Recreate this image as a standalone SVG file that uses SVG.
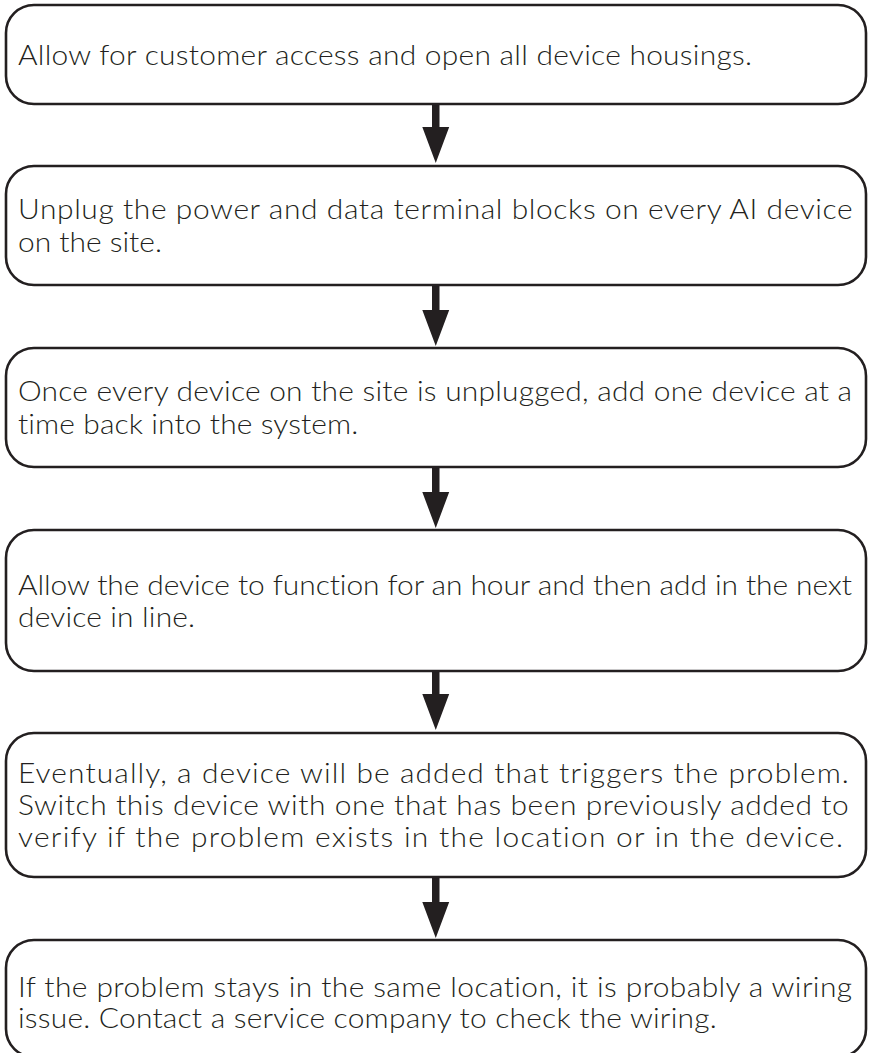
<svg xmlns="http://www.w3.org/2000/svg" width="870" height="1053" viewBox="0 0 870 1053">
  <style>
    .box { fill: #ffffff; stroke: #231f20; stroke-width: 2.6; }
    .label { font-family: "Lato", "Liberation Sans", sans-serif; font-size: 28px; font-weight: 300; fill: #231f20; font-variant-ligatures: none; }
    .arrow { fill: #231f20; }
  </style>
  <rect width="870" height="1053" fill="#ffffff"/>

  <!-- connectors: short shaft + triangular head between stacked steps -->
  <g id="connectors">
    <path class="arrow" d="M432,104 H439.5 V127 H449.2 L435.75,163 L422.3,127 H432 Z"/>
    <path class="arrow" d="M432,285 H439.5 V310 H449.2 L435.75,346 L422.3,310 H432 Z"/>
    <path class="arrow" d="M432,467 H439.5 V492 H449.2 L435.75,528 L422.3,492 H432 Z"/>
    <path class="arrow" d="M432,671 H439.5 V694 H449.2 L435.75,730 L422.3,694 H432 Z"/>
    <path class="arrow" d="M432,877 H439.5 V902 H449.2 L435.75,938 L422.3,902 H432 Z"/>
  </g>

  <!-- body text is set slightly wide: each line is stretched 1.07x from the left margin -->
  <g id="step1">
    <rect class="box" x="6" y="5" width="860" height="99" rx="28" ry="28"/>
    <g transform="matrix(1.07 0 0 1 18 0)">
      <text class="label" x="0" y="65" textLength="686" lengthAdjust="spacing">Allow for customer access and open all device housings.</text>
    </g>
  </g>

  <g id="step2">
    <rect class="box" x="6" y="166" width="860" height="119" rx="28" ry="28"/>
    <g transform="matrix(1.07 0 0 1 18 0)">
      <text class="label" x="0" y="219" textLength="780" lengthAdjust="spacing">Unplug the power and data terminal blocks on every AI device</text>
      <text class="label" x="0" y="252" textLength="134.5" lengthAdjust="spacing">on the site.</text>
    </g>
  </g>

  <g id="step3">
    <rect class="box" x="6" y="348" width="860" height="119" rx="28" ry="28"/>
    <g transform="matrix(1.07 0 0 1 18 0)">
      <text class="label" x="0" y="401" textLength="779.5" lengthAdjust="spacing">Once every device on the site is unplugged, add one device at a</text>
      <text class="label" x="0" y="434" textLength="318" lengthAdjust="spacing">time back into the system.</text>
    </g>
  </g>

  <g id="step4">
    <rect class="box" x="6" y="530" width="860" height="141" rx="28" ry="28"/>
    <g transform="matrix(1.07 0 0 1 18 0)">
      <text class="label" x="0" y="595" textLength="779.5" lengthAdjust="spacing">Allow the device to function for an hour and then add in the next</text>
      <text class="label" x="0" y="627" textLength="165.5" lengthAdjust="spacing">device in line.</text>
    </g>
  </g>

  <g id="step5">
    <rect class="box" x="6" y="733" width="860" height="144" rx="28" ry="28"/>
    <g transform="matrix(1.07 0 0 1 18 0)">
      <text class="label" x="0" y="783" textLength="776.5" lengthAdjust="spacing">Eventually, a device will be added that triggers the problem.</text>
      <text class="label" x="0" y="815" textLength="776.5" lengthAdjust="spacing">Switch this device with one that has been previously added to</text>
      <text class="label" x="0" y="847" textLength="771" lengthAdjust="spacing">verify if the problem exists in the location or in the device.</text>
    </g>
  </g>

  <g id="step6">
    <rect class="box" x="6" y="940" width="860" height="117" rx="28" ry="28"/>
    <g transform="matrix(1.07 0 0 1 18 0)">
      <text class="label" x="0" y="997" textLength="779.5" lengthAdjust="spacing">If the problem stays in the same location, it is probably a wiring</text>
      <text class="label" x="0" y="1028" textLength="653" lengthAdjust="spacing">issue. Contact a service company to check the wiring.</text>
    </g>
  </g>
</svg>
